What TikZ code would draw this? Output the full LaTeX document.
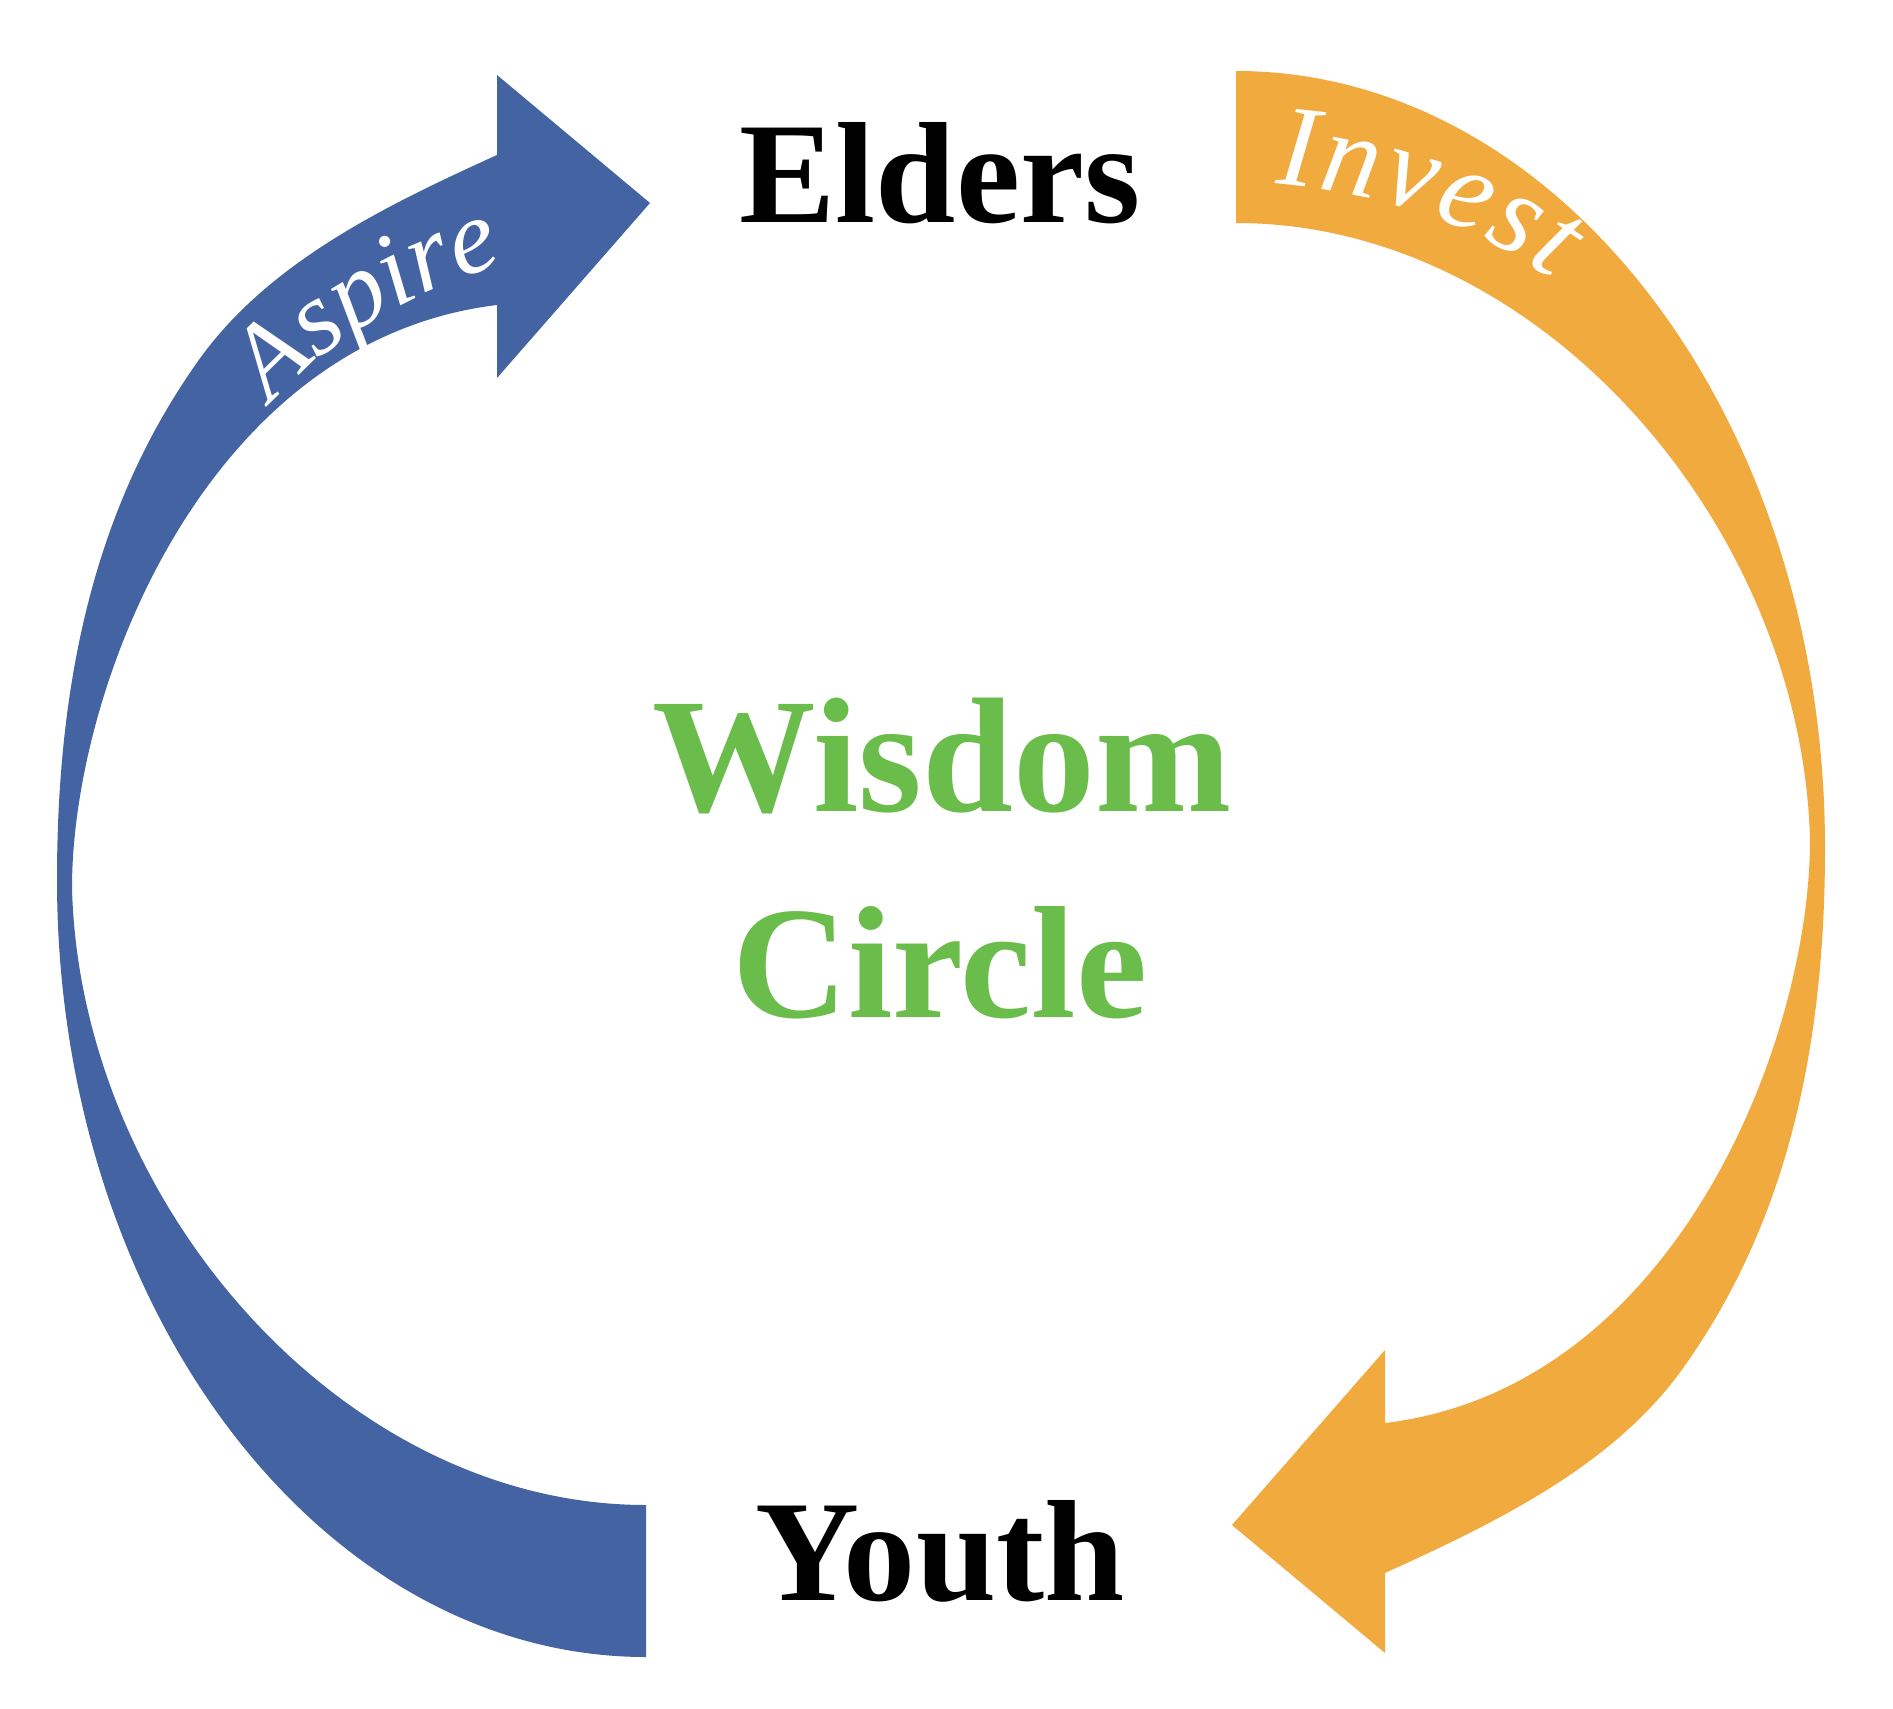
\documentclass[tikz,border=0pt]{standalone}
\usepackage{fontspec}
\setmainfont{Liberation Serif}
\usetikzlibrary{decorations.text}

\definecolor{aspireblue}{RGB}{68,99,163}
\definecolor{investorange}{RGB}{240,170,62}
\definecolor{wisdomgreen}{RGB}{106,189,75}

% 弯箭头轮廓 (内缘 -> 箭头 -> 外缘)
\newcommand{\bandshape}{(646,1505)
  .. controls (340,1505) and (80,1200) .. (72,888)
  .. controls (72,688) and (206,340) .. (497,305)
  -- (497,378) -- (650,203) -- (497,75) -- (497,155)
  .. controls (387,205) and (271,261) .. (201,357)
  .. controls (95,504) and (57,680) .. (57,880)
  .. controls (57,1309) and (321,1657) .. (646,1657)
  -- cycle}

\begin{document}
\begin{tikzpicture}[x=0.01cm, y=-0.01cm,
    stage/.style={font=\bfseries\fontsize{41}{41}\selectfont, inner sep=0pt, anchor=base},
    hub/.style={font=\bfseries\fontsize{45.5}{45.5}\selectfont, text=wisdomgreen, inner sep=0pt, anchor=base}]
    % 画布范围
    \useasboundingbox (0,0) rectangle (1893,1709);

    % 蓝色弯箭头 (左侧, 向上)
    \fill[aspireblue] \bandshape;
    % 橙色弯箭头 (右侧, 向下): 绕中心旋转 180 度
    \fill[investorange, rotate around={180:(941,864)}] \bandshape;

    % 箭头上的文字
    \path[decorate, decoration={text along path,
        text={|\itshape\fontsize{30}{30}\selectfont\color{white}|Aspire}}]
        (272,405) .. controls (320,345) and (415,288) .. (515,261);
    \path[decorate, decoration={text along path, text align={fit to path},
        text={|\itshape\fontsize{33}{33}\selectfont\color{white}|Invest}}]
        (1275,184) .. controls (1380,193) and (1475,222) .. (1552,280);

    % 上下两端
    \node[stage] (elders) at (940,222) {Elders};
    \node[stage] (youth) at (940,1600) {Youth};

    % 中心文字
    \node[hub, font=\bfseries\fontsize{46.5}{46.5}\selectfont] (wisdom) at (942,811) {Wisdom};
    \node[hub] (wcircle) at (940,1017) {Circle};
\end{tikzpicture}
\end{document}
